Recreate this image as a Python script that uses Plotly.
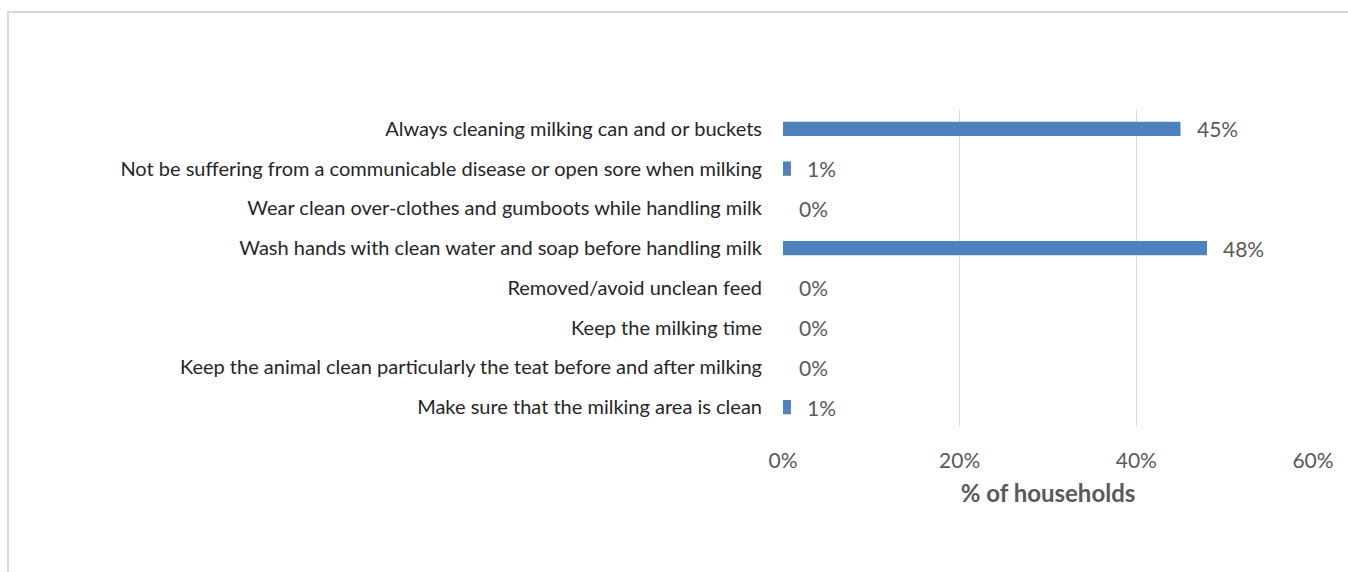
import plotly.graph_objects as go

# Hygiene practices reported by households (share of households)
practices = [
    "Always cleaning milking can and or buckets",
    "Not be suffering from a communicable disease or open sore when milking",
    "Wear clean over-clothes and gumboots while handling milk",
    "Wash hands with clean water and soap before handling milk",
    "Removed/avoid unclean feed",
    "Keep the milking time",
    "Keep the animal clean particularly the teat before and after milking",
    "Make sure that the milking area is clean",
]
share = [0.45, 0.009, 0.0, 0.48, 0.0, 0.0, 0.0, 0.009]
share_labels = ["45%", "1%", "0%", "48%", "0%", "0%", "0%", "1%"]

x_ticks = [0, 0.2, 0.4, 0.6]
x_tick_text = ["0%", "20%", "40%", "60%"]

W, H = 1348, 572
PL, PR, PT, PB = 783, 1313, 109, 427  # plot area in pixels

FONT = "Lato"
GREY = "#595959"

fig = go.Figure(
    go.Bar(
        y=practices,
        x=share,
        orientation="h",
        marker=dict(color="#4f81bd", line=dict(width=0)),
        hoverinfo="skip",
    )
)

for cat, v, lab in zip(practices, share, share_labels):
    fig.add_annotation(
        x=v, y=cat, xref="x", yref="y",
        text=lab, showarrow=False,
        xanchor="left", yanchor="middle", xshift=14,
        font=dict(family=FONT, size=21, color=GREY),
    )

# Chart frame
def px_x(p):
    return (p - PL) / (PR - PL)

def px_y(p):
    return (PB - p) / (PB - PT)

fig.add_shape(
    type="rect", xref="paper", yref="paper",
    x0=px_x(8), x1=px_x(W + 20), y0=px_y(H + 20), y1=px_y(12),
    line=dict(color="#d9d9d9", width=2), fillcolor="rgba(0,0,0,0)",
    layer="below",
)

fig.update_layout(
    width=W, height=H,
    margin=dict(l=PL, r=W - PR, t=PT, b=H - PB, autoexpand=False),
    paper_bgcolor="white", plot_bgcolor="white",
    bargap=0.64,
    showlegend=False,
    font=dict(family=FONT, color="#262626"),
    xaxis=dict(
        range=[0, 0.6],
        tickvals=x_ticks, ticktext=x_tick_text,
        showgrid=True, gridcolor="#d9d9d9", gridwidth=1,
        zeroline=False, showline=False,
        tickfont=dict(family=FONT, size=21, color=GREY),
        ticklabelstandoff=19,
        title=dict(text="<b>% of households</b>",
                   font=dict(family=FONT, size=24, color=GREY), standoff=14),
    ),
    yaxis=dict(
        autorange="reversed",
        tickfont=dict(family=FONT, size=20, color="#262626"),
        ticklabelstandoff=20,
        showgrid=False, zeroline=False, showline=False,
    ),
)

fig.write_html("out.html")
